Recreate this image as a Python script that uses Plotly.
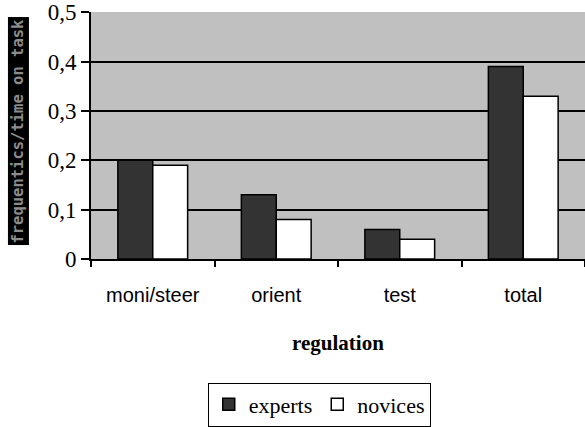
import plotly.graph_objects as go

categories = ["moni/steer", "orient", "test", "total"]
experts = [0.20, 0.13, 0.06, 0.39]
novices = [0.19, 0.08, 0.04, 0.33]
y_ticks = [0, 0.1, 0.2, 0.3, 0.4, 0.5]
y_tick_text = ["0", "0,1", "0,2", "0,3", "0,4", "0,5"]

SERIF = "Liberation Serif"
SANS = "Liberation Sans"

fig = go.Figure()
fig.add_trace(go.Bar(
    name="experts", x=categories, y=experts,
    marker=dict(color="#333333", line=dict(color="black", width=1.5)),
))
fig.add_trace(go.Bar(
    name="novices", x=categories, y=novices,
    marker=dict(color="white", line=dict(color="black", width=1.5)),
))

fig.update_layout(
    width=585, height=427,
    font=dict(family=SERIF, size=20, color="black"),
    margin=dict(l=91, r=0, t=12, b=168, autoexpand=False),
    paper_bgcolor="white",
    plot_bgcolor="#C0C0C0",
    barmode="group",
    bargap=0.435,
    bargroupgap=0,
    showlegend=True,
    legend=dict(
        orientation="h",
        x=0.462, xref="paper", xanchor="center",
        y=-0.50, yanchor="top",
        bordercolor="black", borderwidth=1,
        bgcolor="white",
        font=dict(family=SERIF, size=22, color="black"),
        itemwidth=30,
        tracegroupgap=0,
    ),
)
fig.update_xaxes(
    showline=True, linecolor="black", linewidth=2,
    ticks="outside", tickson="boundaries", ticklen=6,
    tickcolor="black", tickwidth=2,
    tickfont=dict(family=SANS, size=20, color="black"),
    ticklabelstandoff=17,
    title=dict(text="<b>regulation</b>", standoff=30,
               font=dict(family=SERIF, size=21, color="black")),
    showgrid=False,
)
fig.update_yaxes(
    range=[0, 0.5005],
    tickvals=y_ticks, ticktext=y_tick_text,
    showline=True, linecolor="black", linewidth=2,
    ticks="outside", ticklen=8, tickcolor="black", tickwidth=2,
    tickfont=dict(family=SERIF, size=23, color="black"),
    showgrid=True, gridcolor="black", gridwidth=1.5,
    zeroline=False,
)

fig.add_annotation(
    text="<b>frequentics/time on task</b>",
    xref="paper", yref="paper", x=0, y=0.516,
    xanchor="center", yanchor="middle",
    xshift=-73, textangle=-90,
    showarrow=False,
    font=dict(family="DejaVu Sans Mono", size=15.5, color="#8c8c8c"),
    bgcolor="black",
    borderpad=1,
)

fig.write_html("out.html")
